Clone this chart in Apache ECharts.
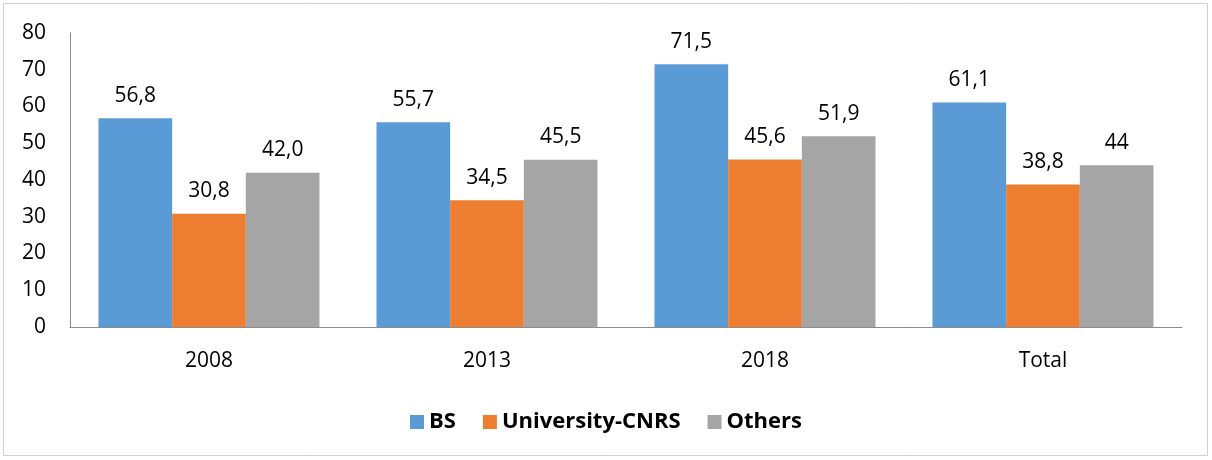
<!DOCTYPE html>
<html><head><meta charset="utf-8">
<script src="https://cdn.jsdelivr.net/npm/echarts@6/dist/echarts.min.js"></script>
<style>html,body{margin:0;padding:0;background:#fff}#c{width:1212px;height:460px}</style>
</head><body><div id="c"></div>
<script>
const categories = ['2008', '2013', '2018', 'Total'];
const seriesNames = ['BS', 'University-CNRS', 'Others'];
const bsValues = [56.8, 55.7, 71.5, 61.1];
const uniValues = [30.8, 34.5, 45.6, 38.8];
const othersValues = [42.0, 45.5, 51.9, 44];
const bsLabels = ['56,8', '55,7', '71,5', '61,1'];
const uniLabels = ['30,8', '34,5', '45,6', '38,8'];
const othersLabels = ['42,0', '45,5', '51,9', '44'];
const yTicks = [0, 10, 20, 30, 40, 50, 60, 70, 80];

const colors = ['#5B9BD5', '#ED7D31', '#A5A5A5'];
const font = 'Open Sans, Noto Sans, sans-serif';
function mk(name, vals, labels, color) {
  return {
    name, type: 'bar', data: vals, barGap: '0%', barCategoryGap: '20.5%',
    itemStyle: {color},
    label: {show: true, position: 'top', distance: 12, fontFamily: font, fontSize: 21, color: '#000',
      formatter: p => labels[p.dataIndex]}
  };
}
const chart = echarts.init(document.getElementById('c'));
chart.setOption({
  animation: false,
  graphic: [{type: 'rect', shape: {x: 3.5, y: 3.5, width: 1204, height: 452}, style: {fill: 'none', stroke: '#d0d0d0', lineWidth: 1}, silent: true}],
  grid: {left: 70, right: 30, top: 33, bottom: 133, containLabel: false},
  legend: {bottom: 22, left: 'center', itemWidth: 14, itemHeight: 14, itemGap: 27, icon: 'rect',
    textStyle: {fontFamily: font, fontSize: 22, fontWeight: 'bold', color: '#000'}, data: seriesNames},
  xAxis: {type: 'category', data: categories,
    axisLine: {lineStyle: {color: '#8c8c8c', width: 1}}, axisTick: {show: false},
    axisLabel: {fontFamily: font, fontSize: 21, color: '#000', margin: 24}},
  yAxis: {type: 'value', min: 0, max: 80, interval: 10,
    axisLine: {show: true, lineStyle: {color: '#8c8c8c', width: 1}}, axisTick: {show: false},
    splitLine: {show: false},
    axisLabel: {fontFamily: font, fontSize: 21, color: '#000', margin: 24,
      formatter: v => yTicks.includes(v) ? String(v) : ''}},
  series: [mk(seriesNames[0], bsValues, bsLabels, colors[0]), mk(seriesNames[1], uniValues, uniLabels, colors[1]), mk(seriesNames[2], othersValues, othersLabels, colors[2])]
});
</script></body></html>
